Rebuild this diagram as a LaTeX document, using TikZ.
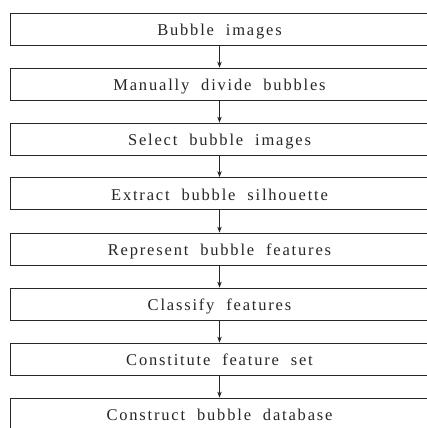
\documentclass[tikz,border=0pt]{standalone}
\usepackage{fontspec}
\setmainfont{Liberation Serif}[LetterSpace=11,WordSpace=2]
\usetikzlibrary{arrows.meta}
\tikzset{
  stepbox/.style={draw=black!85, line width=0.8pt, rectangle, minimum width=419pt, minimum height=32pt, inner sep=0pt, text height=14pt, text depth=0pt, text=black!85, font=\fontsize{16.5}{18}\selectfont},
  arr/.style={draw=black!85, line width=0.8pt, -{Stealth[length=6pt,width=4.5pt]}}
}
\begin{document}
\begin{tikzpicture}[x=1pt,y=1pt]
\fill[white] (0,0) rectangle (427,428);
\clip (0,0) rectangle (427,428);
\node[stepbox] (b1) at (219.5,399) {Bubble images};
\node[stepbox] (b2) at (219.5,344) {Manually divide bubbles};
\node[stepbox] (b3) at (219.5,289) {Select bubble images};
\node[stepbox] (b4) at (219.5,234.5) {Extract bubble silhouette};
\node[stepbox] (b5) at (219.5,179) {Represent bubble features};
\node[stepbox] (b6) at (219.5,124) {Classify features};
\node[stepbox] (b7) at (219.5,69) {Constitute feature set};
\node[stepbox] (b8) at (219.5,14) {Construct bubble database};
\foreach \a/\b in {b1/b2,b2/b3,b3/b4,b4/b5,b5/b6,b6/b7,b7/b8}
  \draw[arr] (\a.south) -- (\b.north);
\end{tikzpicture}
\end{document}
